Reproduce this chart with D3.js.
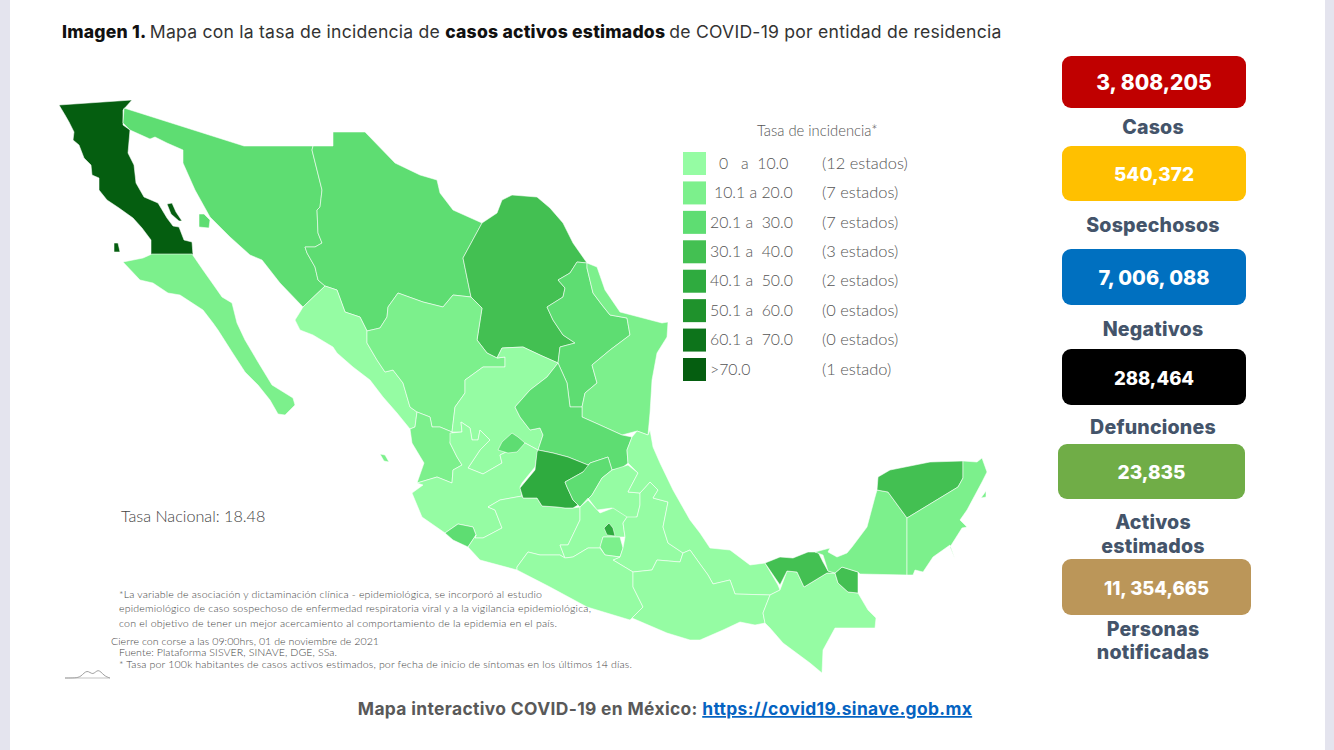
<!DOCTYPE html>
<html><head><meta charset="utf-8">
<style>html,body{margin:0;padding:0;background:#fff}svg{display:block}</style>
<script src="https://cdn.jsdelivr.net/npm/d3@7"></script></head><body>
<svg id="c" width="1334" height="750"></svg>
<script>
// ---- data ----
const classColors=["#95fca3","#7cf08c","#5edd72","#43c052","#2fab3f","#1f922c","#0d741b","#055e10"];
const legendRanges=["0   a  10.0","10.1 a 20.0","20.1 a  30.0","30.1 a  40.0","40.1 a  50.0","50.1 a  60.0","60.1 a  70.0",">70.0"];
const legendCounts=["(12 estados)","(7 estados)","(7 estados)","(3 estados)","(2 estados)","(0 estados)","(0 estados)","(1 estado)"];
const cardValues=["3, 808,205","540,372","7, 006, 088","288,464","23,835","11, 354,665"];
const cardLabels=[["Casos"],["Sospechosos"],["Negativos"],["Defunciones"],["Activos","estimados"],["Personas","notificadas"]];
const cardColors=["#c00000","#ffc000","#0070c0","#000000","#70ad47","#bb9659"];

// traced outlines, in map units
const BajaCalifornia=[[[59,105],[132,100],[123,110],[123,125],[130,130],[128,153],[134,165],[136,183],[144,197],[158,203],[167,218],[173,226],[179,227],[184,240],[192,242],[193,255],[151,255],[151,240],[142,228],[133,218],[119,208],[107,200],[99,190],[99,178],[92,175],[91,165],[84,158],[79,145],[73,140],[74,132],[69,122],[65,115]],
 [[167,204],[172,203],[176,212],[182,221],[179,221],[171,214]],[[114,243],[118,243],[120,252],[114,252]]];
const BajaCaliforniaSur=[[[152,254],[192,254],[203,270],[215,287],[222,297],[232,303],[237,323],[245,340],[258,362],[272,385],[293,398],[295,405],[285,415],[278,414],[270,400],[258,385],[245,372],[232,352],[218,330],[213,323],[203,310],[180,295],[168,293],[153,283],[140,280],[123,262],[143,258]]];
const Sonora=[[[124,108],[244,146],[313,146],[312,150],[317,170],[322,190],[320,207],[317,210],[318,233],[322,243],[315,247],[305,247],[307,253],[315,267],[318,280],[325,286],[303,307],[280,283],[262,260],[250,255],[230,237],[210,217],[195,190],[183,163],[183,150],[167,143],[155,137],[150,139],[130,130],[123,123]],
 [[199,214],[204,214],[210,220],[209,228],[199,227]]];
const Chihuahua=[[[313,146],[333,146],[333,132],[365,132],[395,163],[420,175],[437,180],[440,193],[453,210],[482,223],[463,258],[471,297],[453,295],[443,307],[423,302],[398,293],[388,307],[387,317],[380,328],[367,331],[360,317],[345,312],[337,290],[325,286],[318,280],[315,267],[307,253],[305,247],[315,247],[322,243],[318,233],[317,210],[320,207],[322,190],[317,170],[312,150]]];
const Coahuila=[[[482,223],[497,213],[502,200],[512,195],[537,197],[550,208],[563,223],[573,243],[587,263],[577,262],[570,273],[558,280],[565,288],[563,297],[547,307],[553,320],[563,335],[575,343],[560,347],[558,363],[540,355],[523,347],[502,348],[497,358],[487,353],[477,340],[482,308],[471,297],[463,258]]];
const NuevoLeon=[[[577,262],[587,263],[587,268],[593,293],[602,305],[610,315],[627,318],[630,335],[610,350],[592,365],[597,383],[585,393],[582,407],[570,407],[567,383],[558,363],[560,347],[575,343],[563,335],[553,320],[547,307],[563,297],[565,288],[558,280],[570,273]]];
const Tamaulipas=[[[587,263],[597,267],[605,290],[620,312],[662,323],[668,322],[667,337],[657,353],[652,380],[650,413],[648,435],[637,431],[622,435],[600,425],[582,417],[582,407],[585,393],[597,383],[592,365],[610,350],[630,335],[627,318],[610,315],[602,305],[593,293],[587,268]]];
const Sinaloa=[[[325,286],[337,290],[345,312],[360,317],[367,331],[367,343],[377,360],[385,372],[393,370],[403,383],[410,407],[417,412],[415,427],[410,429],[397,413],[383,397],[370,380],[353,367],[337,353],[333,347],[313,335],[300,330],[295,320],[300,312],[303,307]]];
const Durango=[[[367,331],[380,328],[387,317],[388,307],[398,293],[423,302],[443,307],[453,295],[471,297],[482,308],[477,340],[487,353],[497,358],[505,357],[505,367],[483,367],[465,380],[465,393],[455,407],[452,432],[440,427],[432,427],[430,417],[417,412],[410,407],[403,383],[393,370],[385,372],[377,360],[367,343]]];
const Zacatecas=[[[505,357],[497,358],[502,348],[523,347],[540,355],[558,363],[547,377],[530,390],[515,407],[520,417],[530,430],[540,428],[543,435],[538,450],[525,443],[500,455],[502,463],[483,474],[468,468],[480,450],[490,440],[480,430],[478,440],[472,440],[470,428],[461,422],[462,432],[452,432],[455,407],[465,393],[465,380],[483,367],[505,367]]];
const Nayarit=[[[417,412],[430,417],[432,427],[440,427],[452,432],[450,443],[457,457],[462,465],[453,470],[452,483],[437,477],[417,483],[424,463],[412,443],[410,429],[415,427]],
 [[380,454],[385,455],[389,462],[384,461]]];
const Jalisco=[[[450,433],[462,432],[461,422],[470,428],[472,440],[478,440],[480,430],[490,440],[480,450],[468,468],[483,474],[502,463],[500,455],[525,443],[538,450],[535,467],[522,483],[520,487],[522,496],[500,500],[488,507],[495,510],[502,528],[483,538],[475,538],[476,535],[473,527],[458,524],[445,533],[422,517],[412,493],[423,485],[417,483],[437,477],[452,483],[453,470],[462,465],[457,457],[450,443]]];
const Aguascalientes=[[[498,450],[502,442],[512,433],[518,437],[525,443],[517,452],[508,453]]];
const Colima=[[[445,533],[458,524],[473,527],[476,535],[468,547],[453,540]]];
const SanLuisPotosi=[[[558,363],[567,383],[570,407],[582,407],[582,417],[600,425],[622,435],[632,437],[627,450],[628,463],[622,468],[612,470],[608,457],[590,463],[588,465],[568,457],[553,453],[538,450],[543,435],[540,428],[530,430],[520,417],[515,407],[530,390],[547,377]]];
const Guanajuato=[[[538,450],[553,453],[568,457],[588,465],[590,468],[583,472],[565,482],[567,487],[573,500],[578,505],[573,508],[565,508],[557,507],[542,506],[537,498],[523,498],[520,488],[535,470],[537,452]]];
const Queretaro=[[[590,463],[608,457],[612,470],[602,478],[592,495],[580,507],[573,500],[567,487],[565,482],[583,472]]];
const Michoacan=[[[475,538],[483,538],[502,528],[495,510],[488,507],[500,500],[522,496],[523,498],[537,498],[542,506],[557,507],[565,508],[573,508],[580,507],[580,520],[568,545],[560,545],[565,558],[560,555],[540,555],[528,552],[517,567],[517,570],[480,560],[468,547],[476,535]]];
const EstadoMexico=[[[580,507],[588,500],[600,513],[613,508],[627,517],[623,523],[625,537],[620,537],[603,537],[600,548],[588,548],[573,557],[565,558],[560,545],[568,545],[580,520]]];
const CiudadMexico=[[[604,528],[609,523],[613,528],[615,536],[607,535]]];
const Morelos=[[[600,547],[603,537],[620,537],[623,548],[620,557],[605,555]]];
const Hidalgo=[[[612,470],[628,465],[638,473],[628,492],[640,493],[640,505],[637,517],[623,520],[612,508],[597,510],[588,498],[580,507],[592,495],[602,478]]];
const Tlaxcala=[[[625,523],[638,518],[655,527],[647,533],[635,535],[627,528]]];
const Puebla=[[[640,493],[650,482],[658,490],[653,498],[668,502],[665,517],[663,527],[668,543],[683,553],[680,562],[657,560],[652,570],[633,572],[613,560],[620,557],[623,548],[625,537],[623,523],[627,517],[637,517],[640,505]]];
const Veracruz=[[[648,435],[650,430],[653,447],[660,463],[673,490],[690,520],[700,533],[710,548],[730,550],[750,565],[765,563],[778,585],[780,590],[770,595],[735,594],[730,580],[713,584],[708,575],[700,564],[690,550],[683,553],[668,543],[663,527],[665,517],[668,502],[653,498],[658,490],[650,482],[640,493],[628,492],[638,473],[628,463],[627,450],[632,437],[637,431]]];
const Guerrero=[[[517,570],[517,567],[528,552],[540,555],[560,555],[565,558],[573,557],[588,548],[600,548],[605,555],[620,557],[613,560],[633,572],[633,587],[643,607],[632,618],[630,620],[587,607],[550,587]]];
const Oaxaca=[[[683,553],[690,550],[700,564],[708,575],[713,584],[730,580],[735,594],[770,595],[763,613],[765,623],[755,625],[740,622],[723,630],[700,640],[690,640],[667,633],[632,618],[643,607],[633,587],[633,572],[652,570],[657,560],[680,562]]];
const Chiapas=[[[770,595],[780,590],[787,571],[797,572],[804,587],[827,573],[835,573],[838,583],[848,592],[858,593],[868,610],[876,618],[875,628],[835,628],[823,650],[822,673],[810,663],[783,643],[770,628],[765,623],[763,613]]];
const Tabasco=[[[765,563],[780,557],[793,558],[808,552],[818,552],[823,562],[828,571],[835,573],[842,567],[858,572],[858,593],[848,592],[838,583],[835,573],[827,573],[804,587],[797,572],[787,571],[780,585]]];
const Campeche=[[[877,490],[888,492],[907,518],[907,575],[860,574],[858,572],[842,567],[835,573],[828,571],[823,555],[815,552],[830,548],[828,552],[837,557],[847,553],[852,547],[867,527],[875,497]]];
const Yucatan=[[[877,490],[878,477],[890,470],[930,462],[963,461],[963,478],[958,487],[907,518],[888,492]]];
const QuintanaRoo=[[[963,461],[977,462],[982,458],[987,472],[982,482],[967,510],[960,520],[967,527],[962,528],[950,547],[955,559],[950,545],[933,557],[923,572],[915,570],[913,575],[907,575],[907,518],[958,487],[963,478]],
 [[981,498],[986,491],[986,497]]];

const states=[
 ["Baja California",BajaCalifornia,7],["Baja California Sur",BajaCaliforniaSur,1],["Sonora",Sonora,2],["Chihuahua",Chihuahua,2],
 ["Coahuila",Coahuila,3],["Nuevo León",NuevoLeon,2],["Tamaulipas",Tamaulipas,1],["Sinaloa",Sinaloa,0],["Durango",Durango,1],
 ["Zacatecas",Zacatecas,0],["Nayarit",Nayarit,1],["Jalisco",Jalisco,0],["Aguascalientes",Aguascalientes,2],["Colima",Colima,2],
 ["Michoacán",Michoacan,0],["San Luis Potosí",SanLuisPotosi,2],["Guanajuato",Guanajuato,4],["Querétaro",Queretaro,2],
 ["Hidalgo",Hidalgo,0],["Estado de México",EstadoMexico,0],["Morelos",Morelos,1],["Ciudad de México",CiudadMexico,4],
 ["Tlaxcala",Tlaxcala,0],["Puebla",Puebla,0],["Veracruz",Veracruz,0],["Guerrero",Guerrero,0],["Oaxaca",Oaxaca,0],
 ["Chiapas",Chiapas,0],["Tabasco",Tabasco,3],["Campeche",Campeche,1],["Yucatán",Yucatan,3],["Quintana Roo",QuintanaRoo,1]];

const noteLines=[
 "*La variable de asociación y dictaminación clínica - epidemiológica, se incorporó al estudio",
 "epidemiológico de caso sospechoso de enfermedad respiratoria viral y a la vigilancia epidemiológica,",
 "con el objetivo de tener un mejor acercamiento al comportamiento de la epidemia en el país.",
 "Cierre con corse a las 09:00hrs, 01 de noviembre de 2021",
 "Fuente: Plataforma SISVER, SINAVE, DGE, SSa.",
 "* Tasa por 100k habitantes de casos activos estimados, por fecha de inicio de síntomas en los últimos 14 días."];

// ---- drawing ----
const svg=d3.select("#c");
const boldF="Inter, 'Noto Sans', sans-serif", lightF="Lato, 'Open Sans', sans-serif";
svg.append("rect").attr("width",1334).attr("height",750).attr("fill","#fff");
[[0,10],[1325,9]].forEach(([x,w])=>svg.append("rect").attr("x",x).attr("y",0).attr("width",w).attr("height",750).attr("fill","#e4e4ee"));

// title
const title=svg.append("text").attr("x",62).attr("y",38).attr("font-family",boldF).attr("font-size",17.6).attr("letter-spacing",.22).attr("fill","#333");
title.append("tspan").attr("font-weight",800).attr("fill","#111").text("Imagen 1. ");
title.append("tspan").text("Mapa con la tasa de incidencia de ");
title.append("tspan").attr("font-weight",800).attr("fill","#111").text("casos activos estimados ");
title.append("tspan").text("de COVID-19 por entidad de residencia");

// map
const projection=d3.geoIdentity().scale(1).translate([0,0]);
const geo=d3.geoPath(projection);
svg.append("g").selectAll("path").data(states).join("path")
  .attr("d",d=>geo({type:"MultiPolygon",coordinates:d[1].map(r=>[r.concat([r[0]])])}))
  .attr("fill",d=>classColors[d[2]])
  .attr("stroke","#ffffff").attr("stroke-opacity",.55).attr("stroke-width",1).attr("stroke-linejoin","round")
  .append("title").text(d=>d[0]);

// legend
const ly=d3.scaleLinear().domain([0,7]).range([152,358]);
const lg=svg.append("g").attr("font-family",lightF).attr("fill","#555").attr("font-weight",300);
lg.append("text").attr("x",757).attr("y",136).attr("font-size",14.8).text("Tasa de incidencia*");
const row=lg.selectAll("g").data(classColors).join("g").attr("transform",(d,i)=>`translate(0,${ly(i)})`);
row.append("rect").attr("x",683).attr("width",23).attr("height",23).attr("fill",d=>d);
row.append("text").attr("x",(d,i)=>i==0?719:i==1?714:710).attr("y",16.7).attr("font-size",15.8).style("white-space","pre").text((d,i)=>legendRanges[i]);
row.append("text").attr("x",822).attr("y",16.7).attr("font-size",16.4).text((d,i)=>legendCounts[i]);

svg.append("text").attr("x",121).attr("y",522).attr("font-family",lightF).attr("font-weight",300).attr("font-size",16.2).attr("fill","#444").text("Tasa Nacional: 18.48");

// notes
const noteX=[119,119,119,111,119,119], noteY=[598,612,627,645,656,668], noteW=[423,472,438,268,218,513];
svg.append("g").attr("font-family",lightF).attr("font-size",10.6).attr("font-weight",300).attr("fill","#444").selectAll("text").data(noteLines).join("text")
  .attr("x",(d,i)=>noteX[i]).attr("y",(d,i)=>noteY[i]).attr("textLength",(d,i)=>noteW[i]).attr("lengthAdjust","spacing").text(d=>d);

// logo
const logoLine=d3.line().curve(d3.curveBasis);
svg.append("path").attr("d",logoLine([[65,678],[75,678],[81,677],[87,669],[93,676],[98,668],[104,676],[110,678]])).attr("fill","none").attr("stroke","#888").attr("stroke-width",.8);
svg.append("line").attr("x1",65).attr("x2",110).attr("y1",678).attr("y2",678).attr("stroke","#aaa").attr("stroke-width",.7);

// cards
const cardBoxes=[[1062,56,184,52],[1062,146,184,55],[1062,249,184,56],[1062,349,184,56],[1058,444,187,55],[1062,559,189,56]];
const cardTextY=[90,181,285,385,479,595];
const cardTextSize=[21,19,20,18.5,19,18.5];
const labelY=[[134],[232],[336],[434],[529,553],[636,659]];
const cards=svg.append("g").attr("font-family",boldF).attr("text-anchor","middle");
cardBoxes.forEach((b,i)=>{
  cards.append("rect").attr("x",b[0]).attr("y",b[1]).attr("width",b[2]).attr("height",b[3]).attr("rx",9).attr("fill",cardColors[i]);
  cards.append("text").attr("x",b[0]+b[2]/2).attr("y",cardTextY[i]).attr("font-size",cardTextSize[i]).attr("font-weight",800).attr("fill","#fff").text(cardValues[i]);
  cardLabels[i].forEach((t,j)=>cards.append("text").attr("x",1153).attr("y",labelY[i][j]).attr("font-size",19.6).attr("letter-spacing",.2).attr("font-weight",800).attr("fill","#44546a").text(t));
});

// footer
const ft=svg.append("text").attr("x",665).attr("y",715).attr("text-anchor","middle").attr("font-family",boldF).attr("font-size",17.4).attr("letter-spacing",.36).attr("font-weight",700).attr("fill","#595959");
ft.append("tspan").text("Mapa interactivo COVID-19 en México: ");
ft.append("tspan").attr("fill","#0563c1").attr("text-decoration","underline").text("https://covid19.sinave.gob.mx");
</script></body></html>
